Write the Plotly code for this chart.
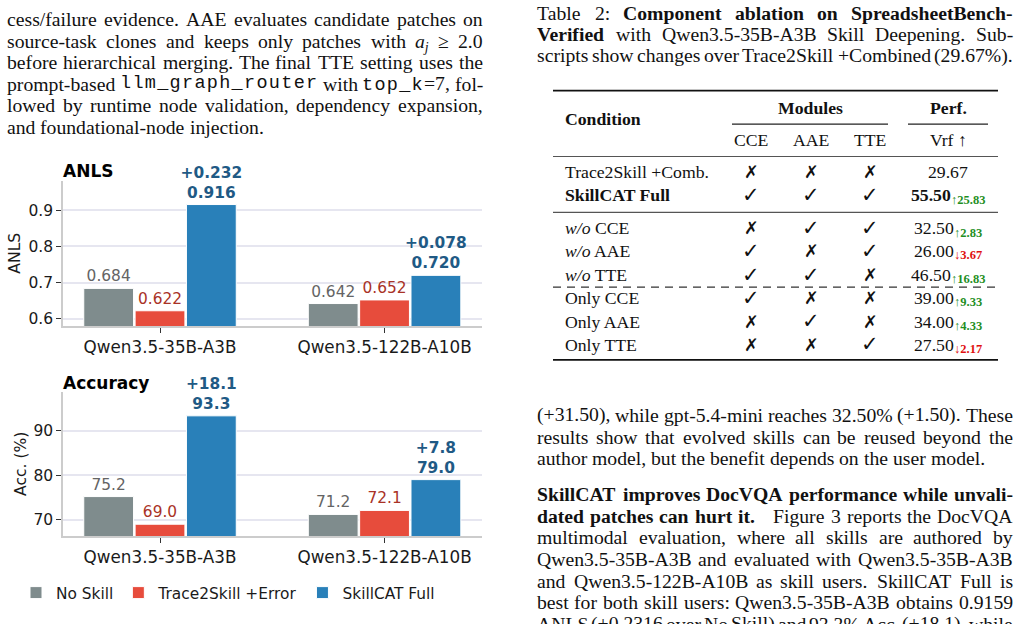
import glob
import os
import struct
import plotly.graph_objects as go

W, H = 1020, 624

# ---------------- chart data ----------------
models = ["Qwen3.5-35B-A3B", "Qwen3.5-122B-A10B"]
series_names = ["No Skill", "Trace2Skill +Error", "SkillCAT Full"]
anls_no_skill = [0.684, 0.642]
anls_trace2skill = [0.622, 0.652]
anls_skillcat = [0.916, 0.720]
acc_no_skill = [75.2, 71.2]
acc_trace2skill = [69.0, 72.1]
acc_skillcat = [93.3, 79.0]
anls_tick_vals = [0.6, 0.7, 0.8, 0.9]
acc_tick_vals = [70, 80, 90]

# ---------------- table data ----------------
table_conditions = ["Trace2Skill +Comb.", "<b>SkillCAT Full</b>", "<i>w/o</i> CCE", "<i>w/o</i> AAE",
                    "<i>w/o</i> TTE", "Only CCE", "Only AAE", "Only TTE"]
table_cce = [0, 1, 0, 1, 1, 1, 0, 0]
table_aae = [0, 1, 1, 0, 1, 0, 1, 0]
table_tte = [0, 1, 1, 1, 0, 0, 0, 1]
table_vrf = [29.67, 55.50, 32.50, 26.00, 46.50, 39.00, 34.00, 27.50]

# ---------------- page text ----------------
left_lines = [
    "cess/failure evidence. AAE evaluates candidate patches on",
    "source-task clones and keeps only patches with ¤a¤^j^ ≥ 2.0",
    "before hierarchical merging. The final TTE setting uses the",
    "prompt-based `llm_graph_router` with `top_k`=7, fol-",
    "lowed by runtime node validation, dependency expansion,",
    "and foundational-node injection.",
]
caption_lines = [
    "Table 2: §Component ablation on SpreadsheetBench-§",
    "§Verified§ with Qwen3.5-35B-A3B Skill Deepening. Sub-",
    "scripts show changes over Trace2Skill +Combined (29.67%).",
]
right_para1 = [
    "(+31.50), while gpt-5.4-mini reaches 32.50% (+1.50). These",
    "results show that evolved skills can be reused beyond the",
    "author model, but the benefit depends on the user model.",
]
right_para2 = [
    "§SkillCAT improves DocVQA performance while unvali-§",
    "§dated patches can hurt it.§ | Figure 3 reports the DocVQA",
    "multimodal evaluation, where all skills are authored by",
    "Qwen3.5-35B-A3B and evaluated with Qwen3.5-35B-A3B",
    "and Qwen3.5-122B-A10B as skill users. SkillCAT Full is",
    "best for both skill users: Qwen3.5-35B-A3B obtains 0.9159",
    "ANLS (+0.2316 over No Skill) and 93.3% Acc. (+18.1), while",
]

# ---------------- styles ----------------
SANS = "DejaVu Sans"
SERIF = "Liberation Serif"
TXT = "#111111"
bar_colors = ["#7f8c8d", "#e74c3c", "#2980b9"]
label_colors = ["#646464", "#a93226", "#1f5a85"]
GREEN = "#1f8f1f"
RED = "#e01010"
BODY = 19.7
TABLE = 17.7
SUBSIZE = 12.5
MONO_SIZE = 18.5
MONO_LS = 1.3


# ---------------- font metrics (for justified text) ----------------
def _find(fname):
    roots = ["/usr/share/fonts", "/usr/local/share/fonts",
             os.path.expanduser("~/.fonts"), os.path.expanduser("~/.local/share/fonts")]
    for r in roots:
        if os.path.isdir(r):
            hits = glob.glob(os.path.join(r, "**", fname), recursive=True)
            if hits:
                return hits[0]
    return None


class Metrics:
    def __init__(self, fname, avg):
        self.avg = avg
        self.ok = False
        path = _find(fname)
        if path:
            try:
                self._load(path)
                self.ok = True
            except Exception:
                self.ok = False

    def _load(self, path):
        data = open(path, "rb").read()
        n = struct.unpack(">H", data[4:6])[0]
        tables = {}
        for i in range(n):
            tag, _, off, _ln = struct.unpack(">4sIII", data[12 + 16 * i:28 + 16 * i])
            tables[tag.decode("latin1")] = off
        head = tables["head"]
        self.upem = struct.unpack(">H", data[head + 18:head + 20])[0]
        hhea = tables["hhea"]
        self.nhm = struct.unpack(">H", data[hhea + 34:hhea + 36])[0]
        hm = tables["hmtx"]
        self.adv = [struct.unpack(">H", data[hm + 4 * i:hm + 4 * i + 2])[0] for i in range(self.nhm)]
        cm = tables["cmap"]
        nsub = struct.unpack(">H", data[cm + 2:cm + 4])[0]
        sub = None
        for i in range(nsub):
            pid, eid, off = struct.unpack(">HHI", data[cm + 4 + 8 * i:cm + 12 + 8 * i])
            fmt = struct.unpack(">H", data[cm + off:cm + off + 2])[0]
            if pid == 3 and eid == 1 and fmt == 4:
                sub = cm + off
        if sub is None:
            raise ValueError("no cmap")
        segx2 = struct.unpack(">H", data[sub + 6:sub + 8])[0]
        seg = segx2 // 2
        p = sub + 14
        self.ends = struct.unpack(">%dH" % seg, data[p:p + segx2]); p += segx2 + 2
        self.starts = struct.unpack(">%dH" % seg, data[p:p + segx2]); p += segx2
        self.deltas = struct.unpack(">%dh" % seg, data[p:p + segx2]); p += segx2
        self.ro_pos = p
        self.ros = struct.unpack(">%dH" % seg, data[p:p + segx2])
        self.data = data
        self.seg = seg

    def gid(self, c):
        for i in range(self.seg):
            if self.ends[i] >= c:
                if self.starts[i] > c:
                    return 0
                if self.ros[i] == 0:
                    return (c + self.deltas[i]) & 0xFFFF
                p = self.ro_pos + 2 * i + self.ros[i] + 2 * (c - self.starts[i])
                g = struct.unpack(">H", self.data[p:p + 2])[0]
                return (g + self.deltas[i]) & 0xFFFF if g else 0
        return 0

    def width(self, s, size):
        if not self.ok:
            return sum((0.25 if ch == " " else self.avg) for ch in s) * size
        w = 0.0
        for ch in s:
            g = self.gid(ord(ch))
            if g == 0:
                w += 0.5 * self.upem
            else:
                w += self.adv[min(g, self.nhm - 1)]
        return w * size / self.upem


M_R = Metrics("LiberationSerif-Regular.ttf", 0.46)
M_B = Metrics("LiberationSerif-Bold.ttf", 0.5)
M_I = Metrics("LiberationSerif-Italic.ttf", 0.44)

annos = []
shapes = []


def X(px):
    return px / W


def Y(py):
    return 1 - py / H


def add_text(x, y, text, size, anchor="left", family=SERIF, color=TXT, angle=0):
    annos.append(dict(x=X(x), y=Y(y), xref="paper", yref="paper", text=text, showarrow=False,
                      xanchor=anchor, yanchor="middle", borderpad=0, borderwidth=0, textangle=angle,
                      font=dict(family=family, size=size, color=color)))


STY = {"§": "b", "`": "m", "¤": "i", "^": "s"}


def parse(line):
    words, cur, buf, style = [], [], "", "r"
    for ch in line:
        if ch in STY:
            if buf:
                cur.append((buf, style)); buf = ""
            style = "r" if style == STY[ch] else STY[ch]
        elif ch == " ":
            if buf:
                cur.append((buf, style)); buf = ""
            if cur:
                words.append(cur); cur = []
        else:
            buf += ch
    if buf:
        cur.append((buf, style))
    if cur:
        words.append(cur)
    return words


def part_width(t, st, size):
    if st == "b":
        return M_B.width(t, size)
    if st == "i":
        return M_I.width(t, size)
    if st == "s":
        return M_I.width(t, size * 0.7)
    if st == "m":
        return len(t) * (0.6 * MONO_SIZE + MONO_LS)
    return M_R.width(t, size)


def part_html(t, st):
    if st == "b":
        return "<b>%s</b>" % t
    if st == "i":
        return "<i>%s</i>" % t
    if st == "s":
        return "<sub><i>%s</i></sub>" % t
    if st == "m":
        return ("<span style=\"font-family:Liberation Mono;font-size:%spx;letter-spacing:%spx;"
                "font-weight:300\">%s</span>") % (MONO_SIZE, MONO_LS, t)
    return t


def text_line(line, x0, x1, baseline, size, justify=True):
    words = parse(line)
    widths = []
    for w in words:
        if len(w) == 1 and w[0][0] == "|":
            widths.append(0.3 * size)
        else:
            widths.append(sum(part_width(t, st, size) for t, st in w))
    n = len(words)
    if justify and n > 1:
        gap = (x1 - x0 - sum(widths)) / (n - 1)
    else:
        gap = M_R.width(" ", size) if M_R.ok else 0.25 * size
    yc = baseline - 0.34 * size
    x = x0
    for i, (w, wd) in enumerate(zip(words, widths)):
        if not (len(w) == 1 and w[0][0] == "|"):
            html = "".join(part_html(t, st) for t, st in w)
            shift = 0.08 * size if any(st == "s" for _, st in w) else 0
            if i == 0:
                add_text(x, yc + shift, html, size, "left")
            elif justify and i == n - 1:
                add_text(x1, yc + shift, html, size, "right")
            else:
                add_text(x + wd / 2, yc + shift, html, size, "center")
        x += wd + gap


# left column paragraph
for k, ln in enumerate(left_lines):
    text_line(ln, 7, 483, 26 + 21.6 * k, BODY, justify=(k < len(left_lines) - 1))

# right column caption
for k, ln in enumerate(caption_lines):
    text_line(ln, 537, 1013, 20 + 21 * k, BODY)

# right column paragraphs
for k, ln in enumerate(right_para1):
    text_line(ln, 537, 1013, 423 + 21.7 * k, BODY, justify=(k < len(right_para1) - 1))
for k, ln in enumerate(right_para2):
    text_line(ln, 537, 1013, 502.5 + 21.7 * k, BODY)

# ---------------- table ----------------
tx0, tx1 = 553, 998
col_cond = 565
col_x = [751, 811, 870]
col_perf = 948
row_y = [173, 196, 229, 252, 276, 299, 323, 346]


def hline(x0, x1, y, color, width, dash=None):
    ln = dict(color=color, width=width)
    if dash:
        ln["dash"] = dash
    shapes.append(dict(type="line", xref="paper", yref="paper", x0=X(x0), x1=X(x1), y0=Y(y), y1=Y(y), line=ln))


hline(tx0, tx1, 91, "#111", 1.7)
hline(732, 888, 124.5, "#222", 1.1)
hline(908, 988, 124.5, "#222", 1.1)
hline(tx0, tx1, 157, "#555", 1.1)
hline(tx0, tx1, 213, "#555", 1.3)
hline(tx0, tx1, 288, "#333", 1.1, "8px,6px")
hline(tx0, tx1, 361, "#111", 1.7)

add_text(col_cond, 119, "<b>Condition</b>", TABLE)
add_text(810, 108, "<b>Modules</b>", TABLE, "center")
add_text(col_perf, 108, "<b>Perf.</b>", TABLE, "center")
for cx, lab in zip(col_x, ["CCE", "AAE", "TTE"]):
    add_text(cx, 140, lab, TABLE, "center")
add_text(col_perf, 140, "Vrf ↑", TABLE, "center")

base_vrf = table_vrf[0]
for i, cond in enumerate(table_conditions):
    y = row_y[i]
    add_text(col_cond, y, cond, TABLE)
    for cx, flags in zip(col_x, [table_cce, table_aae, table_tte]):
        if flags[i]:
            add_text(cx, y - 0.5, "<b>✓</b>", 21, "center", family=SANS)
        else:
            add_text(cx, y, "✗", 17.5, "center", family=SANS)
    v = table_vrf[i]
    main_txt = "%.2f" % v
    main_w = (M_B if i == 1 else M_R).width(main_txt, TABLE)
    main_html = "<b>%s</b>" % main_txt if i == 1 else main_txt
    if i == 0:
        add_text(col_perf, y, main_html, TABLE, "center")
    else:
        d = v - base_vrf
        arrow = "↑" if d >= 0 else "↓"
        col = GREEN if d >= 0 else RED
        sub_txt = "%s%.2f" % (arrow, abs(d))
        sub_w = M_B.width(sub_txt, SUBSIZE)
        left = col_perf - (main_w + sub_w) / 2
        add_text(left, y, main_html, TABLE, "left")
        add_text(left + main_w, y + 4.3, "<b>%s</b>" % sub_txt, SUBSIZE, "left", color=col)

# ---------------- bar charts ----------------
fig = go.Figure()


def add_group(vals_list, xa, ya, fmt, show):
    for k, (name, vals) in enumerate(zip(series_names, vals_list)):
        if k == 2:
            delta = [v - b for v, b in zip(vals, vals_list[0])]
            tmpl = "<b>+%{customdata:" + fmt + "}</b><br><b>%{y:" + fmt + "}</b>"
        else:
            delta = None
            tmpl = "%{y:" + fmt + "}"
        fig.add_trace(go.Bar(
            x=models, y=vals, name=name, customdata=delta, texttemplate=tmpl,
            textposition="outside", cliponaxis=False, constraintext="none",
            textfont=dict(family=SANS, size=15.4, color=label_colors[k]),
            marker=dict(color=bar_colors[k], line=dict(color="white", width=1)),
            xaxis=xa, yaxis=ya, showlegend=show, legendgroup=name, hoverinfo="skip"))


add_group([anls_no_skill, anls_trace2skill, anls_skillcat], "x", "y", ".3f", True)
add_group([acc_no_skill, acc_trace2skill, acc_skillcat], "x2", "y2", ".1f", False)

common_x = dict(range=[-0.432, 1.434], showline=True, linecolor="#cccccc", linewidth=1.5,
                ticks="outside", ticklen=5, tickwidth=1.2, tickcolor="#333",
                tickfont=dict(family=SANS, size=16.8, color="#1a1a1a"), showgrid=False, zeroline=False,
                fixedrange=True)
common_y = dict(showline=True, linecolor="#cccccc", linewidth=1.5, ticks="outside", ticklen=5,
                tickwidth=1.2, tickcolor="#333", tickfont=dict(family=SANS, size=15.5, color="#1a1a1a"),
                showgrid=True, gridcolor="#e6e6f0", gridwidth=1.5, zeroline=False, fixedrange=True)

fig.update_layout(
    width=W, height=H, margin=dict(l=0, r=0, t=0, b=0),
    paper_bgcolor="white", plot_bgcolor="white",
    barmode="group", bargap=0.314, bargroupgap=0.03,
    xaxis=dict(domain=[X(63), X(482)], anchor="y", **common_x),
    yaxis=dict(domain=[Y(327), Y(182)], anchor="x", range=[0.58, 0.98], tickvals=anls_tick_vals,
               tickformat=".1f", **common_y),
    xaxis2=dict(domain=[X(63), X(482)], anchor="y2", **common_x),
    yaxis2=dict(domain=[Y(538), Y(393)], anchor="x2", range=[66.3, 98.7], tickvals=acc_tick_vals,
                **common_y),
    legend=dict(orientation="h", x=X(16), xanchor="left", y=Y(595), yanchor="middle",
                font=dict(family=SANS, size=15.4, color="#1a1a1a"), bgcolor="rgba(0,0,0,0)",
                itemwidth=30, traceorder="normal"),
    showlegend=True,
)

# panel titles and y-axis titles
add_text(63, 172, "<b>ANLS</b>", 17, "left", family=SANS, color="#000")
add_text(63, 384, "<b>Accuracy</b>", 17, "left", family=SANS, color="#000")
add_text(15, 254.5, "ANLS", 15.6, "center", family=SANS, color="#1a1a1a", angle=-90)
add_text(21, 465.5, "Acc. (%)", 15.6, "center", family=SANS, color="#1a1a1a", angle=-90)

fig.update_layout(annotations=annos, shapes=shapes)
fig.write_html("out.html", config={"displayModeBar": False})
